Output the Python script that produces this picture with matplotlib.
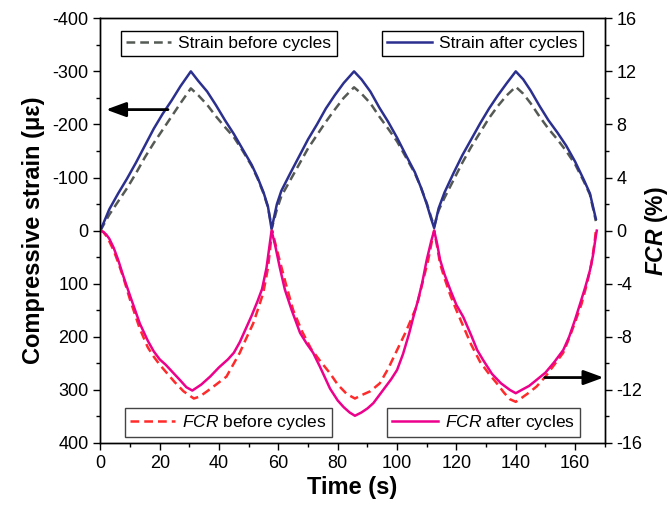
import matplotlib
matplotlib.use('Agg')
import matplotlib.pyplot as plt
from matplotlib.ticker import MultipleLocator

plt.rcParams['font.family'] = ['Liberation Sans', 'DejaVu Sans']
plt.rcParams['axes.unicode_minus'] = False
plt.rcParams['mathtext.fontset'] = 'custom'
plt.rcParams['mathtext.rm'] = 'Liberation Sans'
plt.rcParams['mathtext.it'] = 'Liberation Sans:italic'
plt.rcParams['mathtext.bf'] = 'Liberation Sans:bold'
plt.rcParams['mathtext.bfit'] = 'Liberation Sans:italic:bold'

# Strain after cycles (micro strain, compression negative)
t_strain_after = [0, 3, 6, 9, 12, 15, 18, 21, 24, 27, 30.5, 33, 36, 39, 42, 45, 48, 51, 53, 55, 56.5, 57.7,
                  59.5, 61, 64, 67, 70, 73, 76, 79, 82, 85.5, 88, 91, 94, 97, 100, 103, 106, 108, 110, 111.5, 112.5,
                  114, 116, 119, 122, 125, 128, 131, 134, 137, 140, 142.5, 145, 148, 151, 154, 157, 160, 163, 165, 167]
strain_after = [0, -40, -70, -98, -128, -160, -192, -220, -245, -272, -300, -282, -262, -236, -208, -182, -153, -124, -100, -72, -45, -3,
                -50, -75, -108, -140, -172, -200, -230, -255, -278, -300, -285, -262, -232, -205, -175, -142, -110, -82, -50, -22, -5,
                -42, -72, -108, -142, -172, -202, -230, -255, -278, -300, -285, -264, -235, -208, -185, -160, -130, -95, -70, -22]

# Strain before cycles
t_strain_before = [0, 3, 6, 9, 12, 15, 18, 21, 24, 27, 30.5, 33, 36, 39, 42, 45, 48, 51, 53, 55, 56.5, 57.8,
                   59.5, 61, 64, 67, 70, 73, 76, 79, 82, 85.5, 88, 91, 94, 97, 100, 103, 106, 108, 110, 111.5, 112.5,
                   114, 116, 119, 122, 125, 128, 131, 134, 137, 140, 142.5, 145, 148, 151, 154, 157, 160, 163, 165, 167]
strain_before = [0, -30, -55, -80, -108, -138, -165, -190, -215, -240, -268, -255, -237, -215, -195, -176, -150, -122, -98, -70, -44, -5,
                 -40, -65, -95, -125, -155, -180, -205, -228, -250, -270, -258, -240, -215, -192, -168, -138, -108, -82, -52, -25, -8,
                 -38, -62, -95, -128, -158, -185, -212, -235, -255, -271, -258, -240, -215, -192, -172, -150, -125, -92, -68, -18]

# FCR after cycles (%)
t_fcr_after = [0, 1, 2, 3, 4.5, 6, 7.7, 10, 13.3, 16, 18, 20, 22, 24.5, 27, 29, 31, 34, 37, 40, 43, 45, 47, 49, 51, 53, 54.5, 56, 57.7,
               59, 60.5, 62.2, 64.5, 67.3, 69.5, 71.7, 74, 77.4, 80, 82, 84, 85.8, 88, 90, 92, 94, 96, 98, 100, 102, 104, 105.5, 107, 108.5, 110, 111.5, 112.5,
               113.5, 114.5, 116, 118, 120, 122.3, 125, 127, 129, 132, 135, 138, 140, 142, 144.5, 147, 150, 153, 156, 158, 160, 161.7, 163.5, 165, 166, 167, 167.3]
fcr_after = [0, -0.1, -0.3, -0.6, -1.3, -2.2, -3.4, -4.9, -7.0, -8.3, -9.1, -9.7, -10.1, -10.7, -11.3, -11.8, -12.05, -11.6, -11.0, -10.3, -9.7, -9.2, -8.4, -7.4, -6.4, -5.3, -4.4, -2.8, 0,
             -1.2, -2.8, -4.45, -6.0, -7.7, -8.5, -9.2, -10.25, -11.9, -12.8, -13.3, -13.7, -13.95, -13.7, -13.4, -13.0, -12.4, -11.8, -11.2, -10.5, -9.3, -7.8, -6.5, -5.3, -3.9, -2.2, -0.8, 0,
             -1.0, -2.2, -3.3, -4.5, -5.6, -6.5, -7.9, -9.0, -9.75, -10.8, -11.5, -12.0, -12.25, -12.0, -11.7, -11.25, -10.7, -9.9, -9.0, -8.0, -6.7, -5.5, -4.2, -3.0, -1.9, -0.4, 0]

# FCR before cycles (%)
t_fcr_before = [0, 1, 2, 3, 4.5, 6, 7.7, 10, 13.3, 16, 18, 20, 22.3, 25, 28, 31.5, 33.5, 36, 39, 42.5, 45, 47, 49, 51.5, 53, 54.9, 56.5, 57.9,
                59, 60.5, 62.5, 65, 68, 71, 74, 77.4, 80, 83, 85.8, 88, 91, 94.2, 97, 100, 103, 106.6, 108.5, 110.5, 112, 112.5,
                113.5, 114.5, 116, 118, 120, 122.3, 125, 128, 131, 133.6, 136, 138, 140, 142, 144.5, 147, 150, 153, 156, 158, 160, 162.2, 164, 165.5, 166.5, 167]
fcr_before = [0, -0.1, -0.4, -0.8, -1.5, -2.4, -3.5, -5.2, -7.4, -8.8, -9.5, -10.1, -10.7, -11.4, -12.1, -12.65, -12.5, -12.1, -11.6, -11.0, -10.0, -9.2, -8.2, -7.0, -6.0, -4.7, -2.8, 0,
              -1.0, -2.3, -4.0, -6.0, -7.6, -8.9, -9.8, -10.75, -11.6, -12.3, -12.65, -12.4, -12.1, -11.5, -10.4, -9.0, -7.6, -5.7, -4.0, -2.2, -0.5, 0,
              -1.2, -2.5, -3.6, -4.9, -6.0, -7.2, -8.6, -9.9, -10.8, -11.5, -12.2, -12.7, -12.9, -12.6, -12.2, -11.75, -11.0, -10.1, -9.2, -8.1, -6.9, -5.5, -4.0, -2.5, -1.0, 0]

fig = plt.figure(figsize=(6.69, 5.08), dpi=100)
ax = fig.add_axes([0.150, 0.128, 0.754, 0.836])
ax2 = ax.twinx()

l_sb, = ax.plot(t_strain_before, strain_before, color='#555a55', lw=1.8, linestyle=(0, (3.5, 2)), label='Strain before cycles')
l_sa, = ax.plot(t_strain_after, strain_after, color='#2b2f8e', lw=1.8, label='Strain after cycles')
l_fb, = ax2.plot(t_fcr_before, fcr_before, color='#ff2a2a', lw=1.8, linestyle=(0, (3.5, 2)), label=r'$\mathit{FCR}$ before cycles')
l_fa, = ax2.plot(t_fcr_after, fcr_after, color='#ec008c', lw=1.8, label=r'$\mathit{FCR}$ after cycles')

# axes limits and ticks
ax.set_xlim(0, 170)
ax.set_ylim(400, -400)
ax2.set_ylim(-16, 16)
ax.xaxis.set_major_locator(MultipleLocator(20))
ax.xaxis.set_minor_locator(MultipleLocator(10))
ax.yaxis.set_major_locator(MultipleLocator(100))
ax.yaxis.set_minor_locator(MultipleLocator(50))
ax2.yaxis.set_major_locator(MultipleLocator(4))
ax2.yaxis.set_minor_locator(MultipleLocator(2))
for a in (ax, ax2):
    a.tick_params(which='major', direction='out', length=5, width=1, labelsize=13)
    a.tick_params(which='minor', direction='out', length=3, width=1)
    for s in a.spines.values():
        s.set_linewidth(1)

ax.set_xlabel('Time (s)', fontsize=17, fontweight='bold', labelpad=3)
ax.set_ylabel('Compressive strain (με)', fontsize=17, fontweight='bold', labelpad=5)
ax2.set_ylabel(r'$\mathbfit{FCR}$ (%)', fontsize=16.5, fontweight='bold', labelpad=0)

# legends
leg_kw = dict(fontsize=12.5, frameon=True, fancybox=False, framealpha=1, borderaxespad=0,
              handlelength=2.6, handletextpad=0.4, borderpad=0.3)
lg1 = ax2.legend(handles=[l_sb], loc='upper left', bbox_to_anchor=(0.041, 0.971), edgecolor='k', **leg_kw)
ax2.add_artist(lg1)
lg2 = ax2.legend(handles=[l_sa], loc='upper right', bbox_to_anchor=(0.956, 0.971), edgecolor='k', **leg_kw)
ax2.add_artist(lg2)
lg3 = ax2.legend(handles=[l_fb], loc='lower left', bbox_to_anchor=(0.049, 0.014), edgecolor='#444444', **leg_kw)
ax2.add_artist(lg3)
lg4 = ax2.legend(handles=[l_fa], loc='lower right', bbox_to_anchor=(0.950, 0.014), edgecolor='#444444', **leg_kw)
for lg in (lg1, lg2, lg3, lg4):
    lg.get_frame().set_linewidth(1)

# arrows pointing at the relevant axis
arrow_style = dict(arrowstyle='-|>,head_length=0.6,head_width=0.22', color='k', lw=2, mutation_scale=20,
                   shrinkA=0, shrinkB=0)
ax.annotate('', xy=(1.9, -228), xytext=(22.8, -228), arrowprops=arrow_style)
ax2.annotate('', xy=(169.6, -11.07), xytext=(149.8, -11.07), arrowprops=arrow_style, annotation_clip=False)

plt.savefig('out.png', dpi=100)
